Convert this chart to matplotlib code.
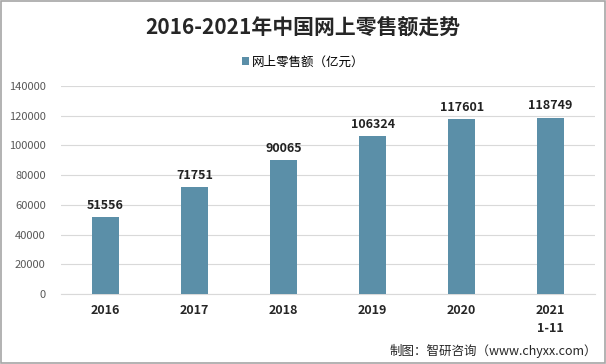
import matplotlib.pyplot as plt
from matplotlib.patches import Rectangle

plt.rcParams['font.family'] = ['Noto Sans CJK SC', 'DejaVu Sans']
plt.rcParams['axes.unicode_minus'] = False

# 数据
years = ['2016', '2017', '2018', '2019', '2020', '2021\n1-11']
sales = [51556, 71751, 90065, 106324, 117601, 118749]
yticks = [0, 20000, 40000, 60000, 80000, 100000, 120000, 140000]

bar_color = '#5b8fa8'

fig = plt.figure(figsize=(6.06, 3.64), dpi=100)
ax = fig.add_axes([0.1007, 0.1923, 0.8813, 0.5714])

x = range(len(years))
ax.bar(x, sales, width=0.31, color=bar_color, label='网上零售额（亿元）', zorder=3)
for i, v in zip(x, sales):
    ax.text(i, v + 3500, str(v), ha='center', va='bottom', fontsize=9,
            fontweight='bold', color='#222222')

ax.set_xlim(-0.5, len(years) - 0.5)
ax.set_ylim(0, 140000)
ax.set_yticks(yticks)
ax.set_yticklabels([str(t) for t in yticks], fontsize=8, color='#595959')
ax.set_xticks(list(x))
ax.set_xticklabels(years, fontsize=9, fontweight='bold', color='#262626',
                   linespacing=1.5)
ax.tick_params(axis='both', length=0)
ax.tick_params(axis='y', pad=11)
ax.tick_params(axis='x', pad=7)
ax.grid(axis='y', color='#d9d9d9', linewidth=0.8, zorder=0)
for s in ['top', 'right', 'left']:
    ax.spines[s].set_visible(False)
ax.spines['bottom'].set_color('#d9d9d9')

fig.text(0.5, 0.925, '2016-2021年中国网上零售额走势', ha='center', va='center',
         fontsize=15, fontweight='bold', color='#262626')
fig.legend(loc='center', bbox_to_anchor=(0.5, 0.83), frameon=False,
           fontsize=9, handlelength=0.6, handleheight=0.6, handletextpad=0.2)
fig.text(0.986, 0.035, '制图：智研咨询（www.chyxx.com）', ha='right', va='center',
         fontsize=9, color='#262626')

# 外边框
fig.patches.append(Rectangle((0.001, 0.002), 0.997, 0.995, transform=fig.transFigure,
                             fill=False, edgecolor='#a6a6a6', linewidth=1.2))

fig.savefig('out.png', dpi=100)
